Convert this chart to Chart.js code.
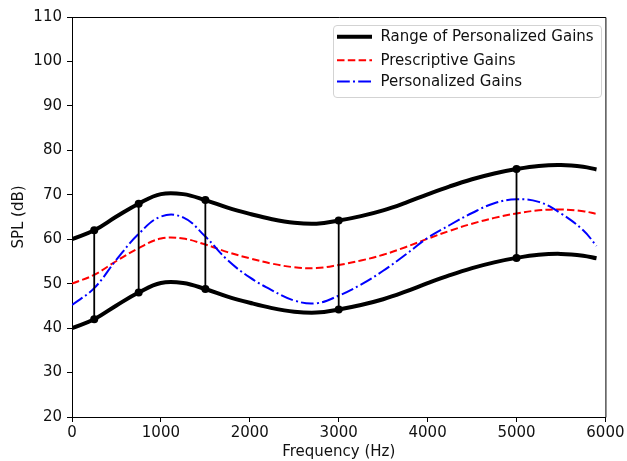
<!DOCTYPE html>
<html>
<head>
<meta charset="utf-8">
<script src="https://cdn.jsdelivr.net/npm/chart.js@4/dist/chart.umd.min.js"></script>
<style>
  html, body { margin: 0; padding: 0; background: #fff; }
  #wrap { width: 627px; height: 461px; position: relative; }
</style>
</head>
<body>
<div id="wrap"><canvas id="c" width="627" height="461"></canvas></div>
<script>
// ---- data ----
const freqs = [0,250,500,750,1000,1250,1500,1750,2000,2250,2500,2750,3000,3250,3500,3750,4000,4250,4500,4750,5000,5250,5500,5750,5900];
const rangeUpper = [60,62,65.1,68,70.15,70.15,68.8,67.1,65.7,64.5,63.7,63.5,64.2,65.2,66.5,68.2,70.1,71.9,73.5,74.8,75.8,76.5,76.7,76.3,75.7];
const rangeLower = [40,42,45.1,48,50.15,50.15,48.8,47.1,45.7,44.5,43.7,43.5,44.2,45.2,46.5,48.2,50.1,51.9,53.5,54.8,55.8,56.5,56.7,56.3,55.7];
const prescriptive = [50,52,55.1,58,60.15,60.15,58.8,57.1,55.7,54.5,53.7,53.5,54.2,55.2,56.5,58.2,60.1,61.9,63.5,64.8,65.8,66.5,66.7,66.3,65.7];
const personalized = [45.2,49,55.4,61.2,65.1,64.9,60.6,55.3,51.4,48.5,46.2,45.6,47.3,49.8,52.9,56.5,60.3,63.2,65.9,68.1,69.0,68.4,65.8,62.0,58.5];
const markerFreqs = [250,750,1500,3000,5000];
const markerUpper = [62,68,68.8,64.2,75.8];
const markerLower = [42,48,48.8,44.2,55.8];
const xTicks = [0,1000,2000,3000,4000,5000,6000];
const yTicks = [20,30,40,50,60,70,80,90,100,110];
const labels = ['Range of Personalized Gains','Prescriptive Gains','Personalized Gains'];
const xTitle = 'Frequency (Hz)';
const yTitle = 'SPL (dB)';

const FONT = 'DejaVu Sans';
const FS = 15;
const pts = (ys) => freqs.map((f, i) => ({x: f, y: ys[i]}));

const datasets = [
  {label: labels[0], data: pts(rangeUpper), borderColor: '#000', borderWidth: 4, pointRadius: 0, tension: 0.4, fill: false, order: 5, legendShow: true},
  {label: labels[1], data: pts(prescriptive), borderColor: '#ff0000', borderWidth: 2, borderDash: [7.5, 3.3], pointRadius: 0, tension: 0.4, fill: false, order: 4, legendShow: true},
  {label: labels[2], data: pts(personalized), borderColor: '#0000ff', borderWidth: 2, borderDash: [12.8, 3.2, 2, 3.2], pointRadius: 0, tension: 0.4, fill: false, order: 3, legendShow: true},
  {label: labels[0] + ' (lower)', data: pts(rangeLower), borderColor: '#000', borderWidth: 4, pointRadius: 0, tension: 0.4, fill: false, order: 5}
];
markerFreqs.forEach((f, i) => {
  datasets.push({
    label: 'seg' + i,
    data: [{x: f, y: markerLower[i]}, {x: f, y: markerUpper[i]}],
    borderColor: '#000', backgroundColor: '#000', borderWidth: 1.8,
    pointRadius: 4, pointBackgroundColor: '#000', pointBorderWidth: 0,
    tension: 0, fill: false, order: 1
  });
});

const framePlugin = {
  id: 'frame',
  afterDatasetsDraw(chart) {
    const {ctx, chartArea: a} = chart;
    ctx.save();
    ctx.strokeStyle = '#000';
    ctx.lineWidth = 1;
    ctx.beginPath();
    ctx.moveTo(a.left + 0.5, a.top + 0.5);
    ctx.lineTo(a.right + 0.5, a.top + 0.5);
    ctx.lineTo(a.right + 0.5, a.bottom + 0.5);
    ctx.stroke();
    ctx.restore();
  },
  afterDraw(chart) {
    const ctx = chart.ctx;
    const items = chart.data.datasets.filter(d => d.legendShow);
    const x0 = 333.5, y0 = 25.5, w = 268, h = 72, r = 3.5;
    ctx.save();
    ctx.fillStyle = 'rgba(255,255,255,0.85)';
    ctx.strokeStyle = '#d3d3d3';
    ctx.lineWidth = 1;
    ctx.beginPath();
    ctx.moveTo(x0 + r, y0);
    ctx.lineTo(x0 + w - r, y0);
    ctx.arcTo(x0 + w, y0, x0 + w, y0 + r, r);
    ctx.lineTo(x0 + w, y0 + h - r);
    ctx.arcTo(x0 + w, y0 + h, x0 + w - r, y0 + h, r);
    ctx.lineTo(x0 + r, y0 + h);
    ctx.arcTo(x0, y0 + h, x0, y0 + h - r, r);
    ctx.lineTo(x0, y0 + r);
    ctx.arcTo(x0, y0, x0 + r, y0, r);
    ctx.closePath();
    ctx.fill();
    ctx.stroke();
    const rows = [36.8, 60.2, 81.6];
    items.forEach((d, i) => {
      const y = rows[i];
      ctx.beginPath();
      ctx.setLineDash(d.borderDash || []);
      ctx.strokeStyle = d.borderColor;
      ctx.lineWidth = d.borderWidth;
      ctx.lineCap = 'butt';
      ctx.moveTo(337, y);
      ctx.lineTo(372, y);
      ctx.stroke();
      ctx.setLineDash([]);
      ctx.fillStyle = '#111';
      ctx.font = FS + 'px "' + FONT + '"';
      ctx.textAlign = 'left';
      ctx.textBaseline = 'middle';
      ctx.fillText(d.label, 380.5, y + 0.5);
    });
    ctx.restore();
  }
};

new Chart(document.getElementById('c'), {
  type: 'line',
  data: {datasets},
  options: {
    responsive: false,
    animation: false,
    devicePixelRatio: 1,
    layout: {padding: {left: 0, top: 17, right: 18, bottom: 0}},
    plugins: {legend: {display: false}, tooltip: {enabled: false}},
    scales: {
      x: {
        type: 'linear', min: 0, max: 6000,
        afterBuildTicks: (s) => { s.ticks = xTicks.map(v => ({value: v})); },
        afterFit: (s) => { s.height = 44; },
        ticks: {color: '#111', font: {family: FONT, size: FS}, padding: 2.5, maxRotation: 0, autoSkip: false, callback: (v) => String(v)},
        grid: {drawOnChartArea: false, drawTicks: true, tickLength: 5, color: '#000', tickColor: '#000'},
        border: {display: true, color: '#000', width: 1},
        title: {display: true, text: xTitle, color: '#111', font: {family: FONT, size: FS}, padding: {top: 0, bottom: 0}}
      },
      y: {
        type: 'linear', min: 20, max: 110,
        afterBuildTicks: (s) => { s.ticks = yTicks.map(v => ({value: v})); },
        afterFit: (s) => { s.width = 72; },
        ticks: {color: '#111', font: {family: FONT, size: FS}, padding: 5, autoSkip: false, callback: (v) => String(v)},
        grid: {drawOnChartArea: false, drawTicks: true, tickLength: 5, color: '#000', tickColor: '#000'},
        border: {display: true, color: '#000', width: 1},
        title: {display: true, text: yTitle, color: '#111', font: {family: FONT, size: FS}, padding: {top: 10, bottom: 0}}
      }
    }
  },
  plugins: [framePlugin]
});
</script>
</body>
</html>
